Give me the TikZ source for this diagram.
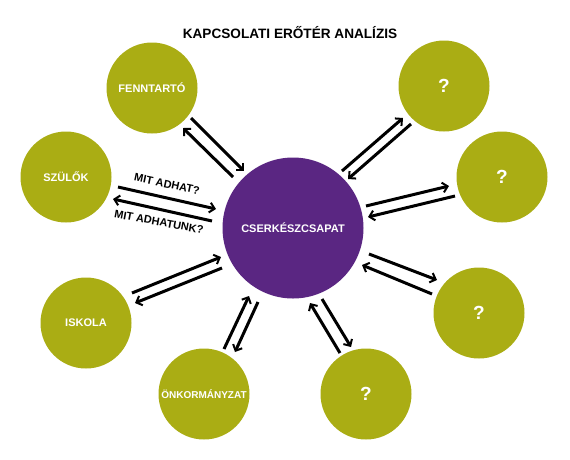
\documentclass[tikz,border=0pt]{standalone}
\usepackage{fontspec}
\setmainfont{Liberation Sans}
\usetikzlibrary{arrows.meta,calc}
\definecolor{olv}{RGB}{170,173,20}
\definecolor{purp}{RGB}{90,38,130}
\newcommand\lnk[4]{\draw[arr] ($(#1)+(#2)$) -- ($(#3)+(#4)$);}
\begin{document}
\begin{tikzpicture}[x=1pt,y=-1pt,
  sat/.style={circle,fill=olv,minimum size=91pt,inner sep=0pt,text=white,font=\bfseries\fontsize{11}{13}\selectfont},
  hub/.style={circle,fill=purp,minimum size=141pt,inner sep=0pt,text=white,font=\bfseries\fontsize{11}{13}\selectfont},
  qm/.style={sat,font=\bfseries\fontsize{19}{22}\selectfont},
  arr/.style={line width=3pt,-{Straight Barb[length=5pt,width=10pt,line width=2pt]}},
  lbl/.style={font=\bfseries\fontsize{11}{13}\selectfont,inner sep=0pt}]
\useasboundingbox (0,0) rectangle (570,459);
\fill[white] (0,0) rectangle (570,459);
\node[font=\bfseries\fontsize{13.6}{16}\selectfont] (T) at (290,33) {KAPCSOLATI ERŐTÉR ANALÍZIS};
\node[hub] (C) at (293,228) {CSERKÉSZCSAPAT};
\node[sat] (F) at (152,88) {FENNTARTÓ};
\node[sat] (S) at (66,177) {SZÜLŐK};
\node[sat] (I) at (86,323) {ISKOLA};
\node[sat,font=\bfseries\fontsize{10}{12}\selectfont] (O) at (204,394) {ÖNKORMÁNYZAT};
\node[qm] (B) at (366,394) {?};
\node[qm] (RB) at (479,313) {?};
\node[qm] (R) at (502,177) {?};
\node[qm] (TR) at (444,86) {?};
% FENNTARTO
\lnk{F}{39,30}{C}{-49,-57}
\lnk{C}{-60,-51}{F}{31,40}
% SZULOK
\lnk{S}{52,10}{C}{-77,-19}
\lnk{C}{-81,-7}{S}{47,22}
% ISKOLA
\lnk{I}{46,-30}{C}{-72,29}
\lnk{C}{-71,40}{I}{49,-20}
% ONKORMANYZAT
\lnk{O}{20,-45}{C}{-44,68}
\lnk{C}{-35,74}{O}{31,-42}
% bottom ?
\lnk{B}{-26,-41}{C}{17,75}
\lnk{C}{29,71}{B}{-15,-47}
% right-bottom ?
\lnk{C}{76,26}{RB}{-42,-33}
\lnk{RB}{-47,-19}{C}{69,37}
% right ?
\lnk{C}{73,-22}{R}{-53,9}
\lnk{R}{-47,19}{C}{75,-11}
% top-right ?
\lnk{C}{49,-57}{TR}{-41,32}
\lnk{TR}{-33,38}{C}{55,-49}
\node[lbl,rotate=-12] (L1) at (167,184) {MIT ADHAT?};
\node[lbl,rotate=-10.5] (L2) at (159,222) {MIT ADHATUNK?};
\end{tikzpicture}
\end{document}
